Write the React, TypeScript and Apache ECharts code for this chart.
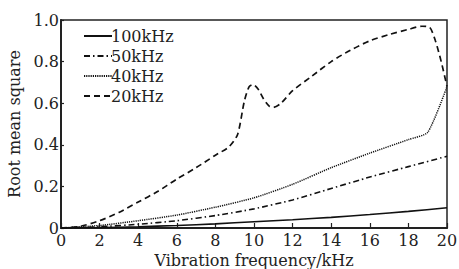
import React, { useEffect, useRef } from "react";
import * as echarts from "echarts";

const xTicks = [0, 2, 4, 6, 8, 10, 12, 14, 16, 18, 20];
const yTickLabels = ["0", "0.2", "0.4", "0.6", "0.8", "1.0"];

const seriesNames = ["100kHz", "50kHz", "40kHz", "20kHz"];

const x100 = [0, 2, 4, 6, 8, 10, 12, 14, 16, 18, 20];
const y100 = [0, 0.002, 0.006, 0.012, 0.02, 0.03, 0.04, 0.051, 0.065, 0.08, 0.097];

const x50 = [0, 2, 4, 6, 8, 10, 12, 14, 16, 18, 20];
const y50 = [0, 0.006, 0.018, 0.035, 0.06, 0.092, 0.135, 0.19, 0.245, 0.295, 0.345];

const x40 = [0, 2, 4, 6, 8, 10, 12, 14, 16, 18, 19, 20];
const y40 = [0, 0.012, 0.035, 0.062, 0.1, 0.145, 0.21, 0.29, 0.36, 0.425, 0.46, 0.68];

const x20 = [0, 1, 2, 3, 4, 5, 6, 7, 8, 8.7, 9.15, 9.5, 9.75, 9.95, 10.2, 10.5, 10.8, 11, 11.4, 12, 13, 14, 15, 16, 17, 18, 18.7, 19.1, 19.4, 19.7, 20];
const y20 = [0, 0.008, 0.035, 0.075, 0.125, 0.175, 0.235, 0.29, 0.35, 0.39, 0.45, 0.61, 0.68, 0.69, 0.67, 0.62, 0.585, 0.58, 0.6, 0.66, 0.73, 0.8, 0.855, 0.9, 0.93, 0.955, 0.97, 0.965, 0.9, 0.8, 0.68];

const pairs = (xs: number[], ys: number[]) => xs.map((x, i) => [x, ys[i]]);

const FONT = "DejaVu Serif";
const FS = 16;

export default function App() {
  const ref = useRef<HTMLDivElement>(null);
  useEffect(() => {
    if (!ref.current) return;
    const chart = echarts.init(ref.current, undefined, { renderer: "svg" });
    const styles: any[] = [
      { type: "solid", width: 1.6 },
      { type: [6, 3, 1.5, 3], width: 1.6 },
      { type: [1.2, 1], width: 1.5 },
      { type: [6, 4], width: 1.7 },
    ];
    const data = [pairs(x100, y100), pairs(x50, y50), pairs(x40, y40), pairs(x20, y20)];
    chart.setOption({
      animation: false,
      grid: {
        left: 61,
        right: 12,
        top: 20,
        bottom: 41,
        outerBoundsMode: "none",
        containLabel: false,
        show: true,
        borderColor: "#222",
        borderWidth: 1.5,
      },
      legend: {
        left: 78,
        top: 23,
        orient: "vertical",
        itemWidth: 28,
        itemHeight: 10,
        itemGap: 4,
        data: seriesNames,
        itemStyle: { opacity: 0 },
        textStyle: { fontFamily: FONT, fontSize: FS, color: "#222", padding: [0, 0, 0, -6] },
      },
      xAxis: {
        type: "value",
        min: 0,
        max: 20,
        interval: 2,
        name: "Vibration frequency/kHz",
        nameLocation: "middle",
        nameGap: 24,
        nameTextStyle: { fontFamily: FONT, fontSize: FS, color: "#222" },
        axisLine: { lineStyle: { color: "#222", width: 2 } },
        axisTick: { inside: true, length: 5, lineStyle: { color: "#222", width: 1.2 } },
        axisLabel: { fontFamily: FONT, fontSize: FS, color: "#222", margin: 4, formatter: (v: number) => (xTicks.includes(v) ? String(v) : "") },
        splitLine: { show: false },
      },
      yAxis: {
        type: "value",
        min: 0,
        max: 1,
        interval: 0.2,
        name: "Root mean square",
        nameLocation: "middle",
        nameGap: 38,
        nameTextStyle: { fontFamily: FONT, fontSize: FS, color: "#222" },
        axisLine: { lineStyle: { color: "#222", width: 2 } },
        axisTick: { inside: true, length: 3, lineStyle: { color: "#222", width: 1.2 } },
        axisLabel: { fontFamily: FONT, fontSize: FS, color: "#222", margin: 2, formatter: (v: number) => yTickLabels[Math.round(v * 5)] },
        splitLine: { show: false },
      },
      series: seriesNames.map((name, i) => ({
        name,
        type: "line",
        data: data[i],
        symbol: "none",
        smooth: i === 3 ? 0.25 : 0.2,
        lineStyle: { color: "#111", ...styles[i] },
        itemStyle: { color: "#111" },
      })),
    });
    return () => chart.dispose();
  }, []);
  return <div ref={ref} style={{ width: 459, height: 269, position: "absolute", left: 0, top: 0 }} />;
}
